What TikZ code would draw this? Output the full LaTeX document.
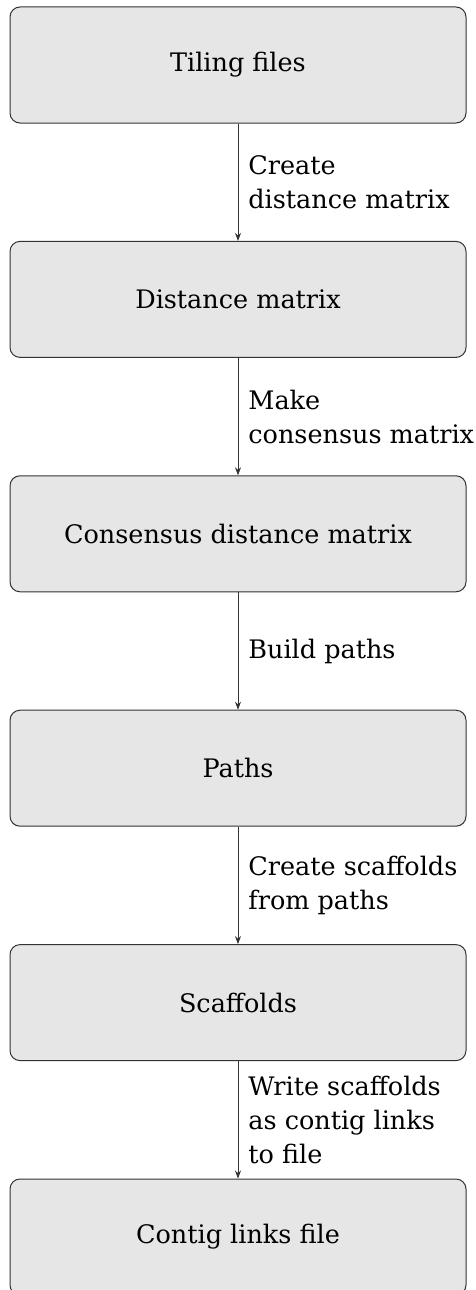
\documentclass[tikz,border=0pt]{standalone}
\usepackage{fontspec}
\setmainfont{DejaVu Serif}
\usepackage{tikz}
\usetikzlibrary{arrows.meta}
\usepackage{xcolor}
\definecolor{boxfill}{HTML}{E6E6E6}
\definecolor{boxline}{HTML}{333333}

\begin{document}
\begin{tikzpicture}[x=1pt, y=1pt,
    font=\fontsize{25.5}{34}\selectfont,
    stage/.style={draw=boxline, fill=boxfill, line width=1pt, rounded corners=10pt,
        minimum width=456pt, minimum height=116pt, inner sep=0pt},
    flow/.style={draw=boxline, line width=0.8pt, -{Stealth[length=8pt, width=6pt]}},
    steptext/.style={right, align=left, inner sep=0pt, xshift=10pt}]
    \clip (0,0) rectangle (476,-1290);

    % Stages
    \node[stage] (tiling)    at (238,-65)    {Tiling files};
    \node[stage] (distance)  at (238,-299.4) {Distance matrix};
    \node[stage] (consensus) at (238,-533.8) {Consensus distance matrix};
    \node[stage] (paths)     at (238,-768.2) {Paths};
    \node[stage] (scaffolds) at (238,-1002.6) {Scaffolds};
    \node[stage] (contig)    at (238,-1237)  {Contig links file};

    % Steps
    \draw[flow] (tiling) -- (distance)
      node[midway, steptext] {Create\\distance matrix};
    \draw[flow] (distance) -- (consensus)
      node[midway, steptext] {Make\\consensus matrix};
    \draw[flow] (consensus) -- (paths)
      node[midway, steptext] {Build paths};
    \draw[flow] (paths) -- (scaffolds)
      node[midway, steptext] {Create scaffolds\\from paths};
    \draw[flow] (scaffolds) -- (contig)
      node[midway, steptext] {Write scaffolds\\as contig links\\to file};
\end{tikzpicture}
\end{document}
